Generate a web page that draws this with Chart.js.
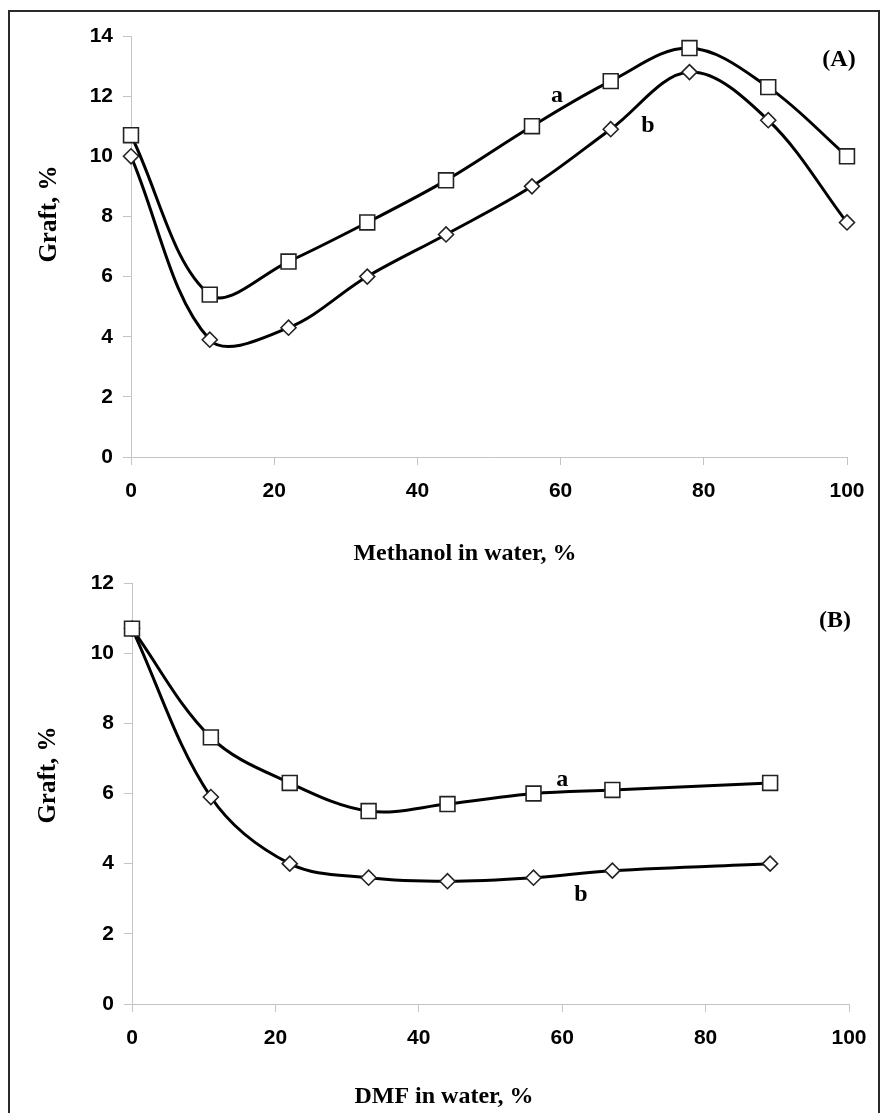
<!DOCTYPE html>
<html><head><meta charset="utf-8">
<script src="https://cdn.jsdelivr.net/npm/chart.js@4.4.1/dist/chart.umd.min.js"></script>
<style>
html,body{margin:0;padding:0;background:#fff;}
#wrap{position:relative;width:882px;height:1113px;overflow:hidden;background:#fff;}
#frame{position:absolute;left:8px;top:10px;width:872px;height:1200px;border:2px solid #2a2a2a;box-sizing:border-box;}
#cA{position:absolute;left:0;top:0;}
#cB{position:absolute;left:0;top:560px;}
</style></head><body>
<div id="wrap"><div id="frame"></div>
<canvas id="cA" width="882" height="565"></canvas>
<canvas id="cB" width="882" height="553"></canvas>
</div>
<script>
// ---- data ----
const methanolX = [0, 11, 22, 33, 44, 56, 67, 78, 89, 100];
const methanolA = [10.7, 5.4, 6.5, 7.8, 9.2, 11.0, 12.5, 13.6, 12.3, 10.0];
const methanolB = [10.0, 3.9, 4.3, 6.0, 7.4, 9.0, 10.9, 12.8, 11.2, 7.8];
const dmfX = [0, 11, 22, 33, 44, 56, 67, 89];
const dmfA = [10.7, 7.6, 6.3, 5.5, 5.7, 6.0, 6.1, 6.3];
const dmfB = [10.7, 5.9, 4.0, 3.6, 3.5, 3.6, 3.8, 4.0];
const xTicks = [0, 20, 40, 60, 80, 100];
const yTicksA = [0, 2, 4, 6, 8, 10, 12, 14];
const yTicksB = [0, 2, 4, 6, 8, 10, 12];
const seriesNames = ['a', 'b'];

const TICK_FONT = {family: "'Liberation Sans', Arial, sans-serif", weight: 'bold', size: 21};
const SERIF = "'Liberation Serif', 'Times New Roman', serif";

function pts(xs, ys) { return xs.map((x, i) => ({x: x, y: ys[i]})); }

const textPlugin = {
  id: 'texts',
  afterDraw(chart, args, opts) {
    const ctx = chart.ctx;
    ctx.save();
    ctx.fillStyle = '#000';
    ctx.textAlign = 'center';
    ctx.textBaseline = 'middle';
    (opts.items || []).forEach(t => {
      ctx.font = 'bold ' + t.size + 'px ' + SERIF;
      let x = t.x, y = t.y;
      if (t.data) {
        x = chart.scales.x.getPixelForValue(t.x);
        y = chart.scales.y.getPixelForValue(t.y);
      }
      ctx.save();
      ctx.translate(x, y);
      if (t.rot) ctx.rotate(t.rot);
      ctx.fillText(t.text, 0, 0);
      ctx.restore();
    });
    ctx.restore();
  }
};

function makeChart(id, xs, ya, yb, yTicks, yMax, cfg) {
  return new Chart(document.getElementById(id), {
    type: 'line',
    data: {
      datasets: [
        {label: seriesNames[0], data: pts(xs, ya), pointStyle: 'rect', pointRadius: 10.5,
         borderColor: '#000', borderWidth: 3, pointBackgroundColor: '#fff', pointBorderColor: '#222',
         pointBorderWidth: 1.6, tension: 0.35, clip: false},
        {label: seriesNames[1], data: pts(xs, yb), pointStyle: 'rectRot', pointRadius: 7.5,
         borderColor: '#000', borderWidth: 3, pointBackgroundColor: '#fff', pointBorderColor: '#222',
         pointBorderWidth: 1.6, tension: 0.35, clip: false}
      ]
    },
    options: {
      responsive: false, animation: false, devicePixelRatio: 1,
      layout: {padding: {left: 0, right: cfg.padRight, top: cfg.padTop, bottom: 0}},
      plugins: {legend: {display: false}, tooltip: {enabled: false}, texts: {items: cfg.texts}},
      scales: {
        x: {type: 'linear', min: 0, max: 100,
            afterBuildTicks: s => { s.ticks = xTicks.map(v => ({value: v})); },
            afterFit: s => { s.height = cfg.xHeight; },
            ticks: {font: TICK_FONT, color: '#000', padding: 14, maxRotation: 0},
            grid: {drawOnChartArea: false, drawTicks: true, tickLength: 8, color: '#c4c4c4'},
            border: {display: true, color: '#c4c4c4', width: 1}},
        y: {type: 'linear', min: 0, max: yMax,
            afterBuildTicks: s => { s.ticks = yTicks.map(v => ({value: v})); },
            afterFit: s => { s.width = cfg.yWidth; },
            ticks: {font: TICK_FONT, color: '#000', padding: 10},
            grid: {drawOnChartArea: false, drawTicks: true, tickLength: 8, color: '#c4c4c4'},
            border: {display: true, color: '#c4c4c4', width: 1}}
      }
    },
    plugins: [textPlugin]
  });
}

makeChart('cA', methanolX, methanolA, methanolB, yTicksA, 14, {
  padRight: 35, padTop: 36, xHeight: 108, yWidth: 131,
  texts: [
    {text: 'Graft, %', x: 50, y: 214, size: 25, rot: -Math.PI / 2},
    {text: 'Methanol in water, %', x: 465, y: 554, size: 24},
    {text: '(A)', x: 839, y: 60, size: 24},
    {text: 'a', x: 59.5, y: 12.0, size: 24, data: true},
    {text: 'b', x: 72.2, y: 11.0, size: 24, data: true}
  ]
});

makeChart('cB', dmfX, dmfA, dmfB, yTicksB, 12, {
  padRight: 33, padTop: 23, xHeight: 109, yWidth: 132,
  texts: [
    {text: 'Graft, %', x: 49, y: 215, size: 25, rot: -Math.PI / 2},
    {text: 'DMF in water, %', x: 444, y: 537, size: 24},
    {text: '(B)', x: 835, y: 61, size: 24},
    {text: 'a', x: 60.0, y: 6.4, size: 24, data: true},
    {text: 'b', x: 62.6, y: 3.1, size: 24, data: true}
  ]
});
</script>
</body></html>
